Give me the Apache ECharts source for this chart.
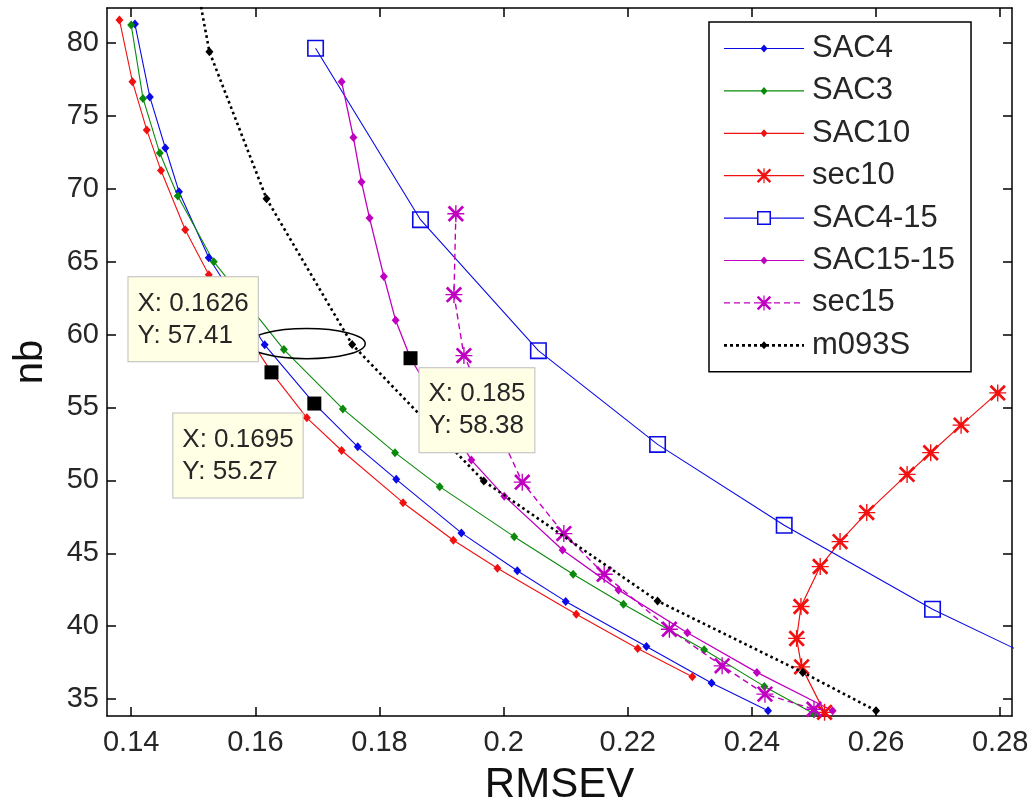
<!DOCTYPE html>
<html><head><meta charset="utf-8">
<script src="https://cdn.jsdelivr.net/npm/echarts@6/dist/echarts.min.js"></script>
<style>html,body{margin:0;padding:0;background:#fff}#c{width:1034px;height:805px}</style>
</head><body><div id="c"></div>
<script>
// ---------- data ----------
const xTicks = [0.14, 0.16, 0.18, 0.2, 0.22, 0.24, 0.26, 0.28];
const yTicks = [35, 40, 45, 50, 55, 60, 65, 70, 75, 80];

const sac4X = [0.1406,0.1430,0.1455,0.1477,0.1525,0.1615,0.1695,0.1765,0.1827,0.1932,0.2022,0.2100,0.2230,0.2335,0.2426];
const sac4Y = [81.3,76.3,72.8,69.8,65.27,59.3,55.27,52.3,50.07,46.4,43.8,41.7,38.6,36.1,34.2];

const sac3X = [0.1400,0.1419,0.1446,0.1475,0.1533,0.1646,0.1741,0.1825,0.1897,0.2017,0.2112,0.2193,0.2323,0.2420,0.2500];
const sac3Y = [81.23,76.2,72.45,69.5,65.0,58.97,54.9,51.9,49.57,46.14,43.56,41.5,38.38,35.87,34.0];

const sac10X = [0.1381,0.1402,0.1425,0.1448,0.1487,0.1525,0.1626,0.1683,0.1739,0.1838,0.1919,0.1990,0.2117,0.2216,0.2304];
const sac10Y = [81.58,77.35,74.04,71.25,67.19,64.11,57.41,54.29,52.05,48.47,45.89,43.97,40.82,38.47,36.53];

const sec10X = [0.2517,0.2480,0.2472,0.2479,0.2510,0.2542,0.2585,0.2650,0.2688,0.2737,0.2796];
const sec10Y = [34.09,37.21,39.16,41.35,44.09,45.8,47.79,50.41,51.9,53.79,56.0];

const sac415X = [0.1697,0.1866,0.2056,0.2248,0.2452,0.2691,0.2905];
const sac415Y = [79.64,67.88,58.9,52.47,46.92,41.16,36.8];

const sac1515X = [0.1739,0.1758,0.1771,0.1784,0.1807,0.1826,0.1850,0.1948,0.2001,0.2095,0.2185,0.2296,0.2408,0.2530];
const sac1515Y = [77.35,73.51,70.46,67.99,63.99,60.98,58.38,51.39,48.92,45.23,42.49,39.55,36.83,34.2];

const sec15X = [0.1923,0.1920,0.1936,0.2030,0.2097,0.2162,0.2267,0.2352,0.2421,0.2500];
const sec15Y = [68.29,62.74,58.56,49.88,46.35,43.56,39.79,37.28,35.34,34.3];

const m093X = [0.1497,0.1526,0.1618,0.1756,0.1968,0.2248,0.2482,0.2600];
const m093Y = [86,79.4,69.32,59.32,49.95,41.73,36.83,34.2];

const tipX = [0.1626, 0.1695, 0.185];
const tipY = [57.41, 55.27, 58.38];

const ellipseCenter = [0.1683, 59.38];
const ellipseRadius = [0.0094, 1.03];

// ---------- styles ----------
const FONT = 'Liberation Sans, Arial, sans-serif';
const TXT = '#262626';
const BLUE = '#0a0ae6', GREEN = '#0a8a0a', RED = '#f01010', MAG = '#c000c0', BLACK = '#000';
const tipOffsets = [[-136, -88], [-134, 17], [16, 17]];

function asterisk(cx, cy, s) {
  const h = s / 2, t = s * 0.04, d = s * 0.057;
  const p = (x, y) => (cx + x).toFixed(2) + ',' + (cy + y).toFixed(2);
  const k = h * 0.85;
  return 'M' + p(-h, -t) + 'L' + p(h, -t) + 'L' + p(h, t) + 'L' + p(-h, t) + 'Z' +
    'M' + p(-t, -h) + 'L' + p(t, -h) + 'L' + p(t, h) + 'L' + p(-t, h) + 'Z' +
    'M' + p(-k + d, -k - d) + 'L' + p(k + d, k - d) + 'L' + p(k - d, k + d) + 'L' + p(-k - d, -k + d) + 'Z' +
    'M' + p(k - d, -k - d) + 'L' + p(k + d, -k + d) + 'L' + p(-k + d, k + d) + 'L' + p(-k - d, k - d) + 'Z' +
    'M' + p(-s * 0.13, -s * 0.13) + 'L' + p(s * 0.13, -s * 0.13) + 'L' + p(s * 0.13, s * 0.13) + 'L' + p(-s * 0.13, s * 0.13) + 'Z';
}
const SYM_AST = 'path://' + asterisk(10, 10, 20);
const SYM_SQ = 'path://M0,0L16,0L16,16L0,16Z M1.5,1.5L1.5,14.5L14.5,14.5L14.5,1.5Z';

// legend icons in an 80x20 box
function seg(x0, x1, th) { const a = (10 - th / 2).toFixed(2), b = (10 + th / 2).toFixed(2); return 'M' + x0 + ',' + a + 'L' + x1 + ',' + a + 'L' + x1 + ',' + b + 'L' + x0 + ',' + b + 'Z'; }
function lineIcon(kind) {
  let s = '';
  if (kind === 'solid') s = seg(0, 80, 1.2);
  else if (kind === 'split') s = seg(0, 33, 1.2) + seg(47, 80, 1.2);
  else if (kind === 'dashed') { for (let x = 0; x < 80; x += 10) s += seg(x, Math.min(x + 6, 80), 1.3); }
  else if (kind === 'dotted') { for (let x = 0; x < 80; x += 6) s += seg(x, Math.min(x + 3, 80), 2.8); }
  return s;
}
const ANCH = 'M0,0Z M80,20Z ';
const ICON_DIAM = 'M40,6L43.5,10L40,14L36.5,10Z';
const ICON_SQ = 'M33,3L47,3L47,17L33,17Z M34.5,4.5L34.5,15.5L45.5,15.5L45.5,4.5Z';
const ICON_AST = asterisk(40, 10, 15);
const icon = (line, mark) => 'path://' + ANCH + lineIcon(line) + ' ' + mark;

const pairs = (xs, ys) => xs.map((x, i) => [x, ys[i]]);

function lineSeries(name, xs, ys, color, symbol, size, lw, ltype, z) {
  return {
    name, type: 'line', data: pairs(xs, ys), color,
    symbol, symbolSize: size, showAllSymbol: true,
    itemStyle: { color }, lineStyle: { color, width: lw, type: ltype },
    emphasis: { disabled: true }, z, animation: false
  };
}

const series = [
  lineSeries('SAC4', sac4X, sac4Y, BLUE, 'diamond', [8, 9], 1.1, 'solid', 2),
  lineSeries('SAC3', sac3X, sac3Y, GREEN, 'diamond', [8, 9], 1.1, 'solid', 2),
  lineSeries('SAC10', sac10X, sac10Y, RED, 'diamond', [8, 9], 1.1, 'solid', 2),
  lineSeries('sec10', sec10X, sec10Y, RED, SYM_AST, 17, 1.2, 'solid', 3),
  lineSeries('SAC4-15', sac415X, sac415Y, BLUE, SYM_SQ, 17, 1.1, 'solid', 3),
  lineSeries('SAC15-15', sac1515X, sac1515Y, MAG, 'diamond', [8, 9], 1.3, 'solid', 3),
  lineSeries('sec15', sec15X, sec15Y, MAG, SYM_AST, 17, 1.4, [6, 4], 3),
  lineSeries('m093S', m093X, m093Y, BLACK, 'diamond', [8, 9], 2.6, [2.6, 3.2], 4),
  {
    name: 'ellipse', type: 'custom', data: [[ellipseCenter[0], ellipseCenter[1], ellipseRadius[0], ellipseRadius[1]]],
    encode: { x: 0, y: 1 }, z: 6, silent: true, animation: false,
    renderItem: function (params, api) {
      const cx = api.value(0), cy = api.value(1), rx = api.value(2), ry = api.value(3);
      const c = api.coord([cx, cy]);
      const r1 = api.coord([cx + rx, cy]);
      const r2 = api.coord([cx, cy + ry]);
      const a = Math.abs(r1[0] - c[0]), b = Math.abs(c[1] - r2[1]);
      const d = 'M' + (c[0] - a) + ',' + c[1] + ' A' + a + ',' + b + ' 0 1 0 ' + (c[0] + a) + ',' + c[1] +
        ' A' + a + ',' + b + ' 0 1 0 ' + (c[0] - a) + ',' + c[1] + ' Z';
      return { type: 'path', shape: { pathData: d }, style: { fill: 'none', stroke: '#000', lineWidth: 1.5 } };
    }
  },
  {
    name: 'datatips', type: 'scatter', z: 10, animation: false, silent: true,
    symbol: 'rect', symbolSize: 14, itemStyle: { color: '#000', opacity: 1 },
    data: pairs(tipX, tipY).map((v, i) => ({
      value: v,
      label: { position: tipOffsets[i] }
    })),
    label: {
      show: true,
      formatter: p => 'X: ' + p.value[0] + '\nY: ' + p.value[1],
      fontFamily: FONT, fontSize: 26, lineHeight: 32, color: '#262626',
      backgroundColor: '#ffffe6', borderColor: '#bdbdbd', borderWidth: 1,
      padding: [10, 9, 10, 9]
    }
  }
];

const legendIcons = {
  'SAC4': icon('solid', ICON_DIAM),
  'SAC3': icon('solid', ICON_DIAM),
  'SAC10': icon('solid', ICON_DIAM),
  'sec10': icon('solid', ICON_AST),
  'SAC4-15': icon('split', ICON_SQ),
  'SAC15-15': icon('solid', ICON_DIAM),
  'sec15': icon('dashed', ICON_AST),
  'm093S': icon('dotted', ICON_DIAM)
};
const legendColors = { 'SAC4': BLUE, 'SAC3': GREEN, 'SAC10': RED, 'sec10': RED, 'SAC4-15': BLUE, 'SAC15-15': MAG, 'sec15': MAG, 'm093S': BLACK };

const axisCommon = {
  type: 'value',
  axisLine: { show: true, onZero: false, lineStyle: { color: '#000', width: 1.5 } },
  splitLine: { show: false },
};

const option = {
  animation: false,
  backgroundColor: '#fff',
  grid: { left: 107, right: 22, top: 8, bottom: 89, containLabel: false, outerBoundsMode: 'none' },
  legend: {
    orient: 'vertical', left: 709, top: 22,
    padding: [11, 16, 11, 15], itemGap: 11.4, itemWidth: 80, itemHeight: 20,
    backgroundColor: '#fff', borderColor: '#000', borderWidth: 1.5,
    selectedMode: false,
    textStyle: { fontFamily: FONT, fontSize: 31, lineHeight: 30, color: TXT, padding: [0, 0, 0, 3] },
    itemStyle: { borderWidth: 0 },
    data: Object.keys(legendIcons).map(n => ({ name: n, icon: legendIcons[n], itemStyle: { color: legendColors[n], borderWidth: 0 } }))
  },
  xAxis: [
    Object.assign({}, axisCommon, {
      position: 'bottom', min: 0.1361, max: 0.2819,
      name: 'RMSEV', nameLocation: 'middle', nameGap: 48,
      nameTextStyle: { fontFamily: FONT, fontSize: 42, color: '#111' },
      axisTick: { show: true, inside: true, length: 9, customValues: xTicks, lineStyle: { color: '#000', width: 1.5 } },
      axisLabel: { show: true, customValues: xTicks, margin: 12, fontFamily: FONT, fontSize: 29, color: TXT, formatter: v => String(v) }
    }),
    Object.assign({}, axisCommon, {
      position: 'top', min: 0.1361, max: 0.2819,
      axisTick: { show: true, inside: true, length: 9, customValues: xTicks, lineStyle: { color: '#000', width: 1.5 } },
      axisLabel: { show: false }
    })
  ],
  yAxis: [
    Object.assign({}, axisCommon, {
      position: 'left', min: 33.84, max: 82.4,
      name: 'nb', nameLocation: 'middle', nameGap: 56, nameRotate: 90,
      nameTextStyle: { fontFamily: FONT, fontSize: 40, color: '#111' },
      axisTick: { show: true, inside: true, length: 9, customValues: yTicks, lineStyle: { color: '#000', width: 1.5 } },
      axisLabel: { show: true, customValues: yTicks, margin: 8, fontFamily: FONT, fontSize: 29, color: TXT }
    }),
    Object.assign({}, axisCommon, {
      position: 'right', min: 33.84, max: 82.4,
      axisTick: { show: true, inside: true, length: 9, customValues: yTicks, lineStyle: { color: '#000', width: 1.5 } },
      axisLabel: { show: false }
    })
  ],
  series: series
};

const chart = echarts.init(document.getElementById('c'), null, { renderer: 'canvas' });
chart.setOption(option);
</script>
</body></html>
